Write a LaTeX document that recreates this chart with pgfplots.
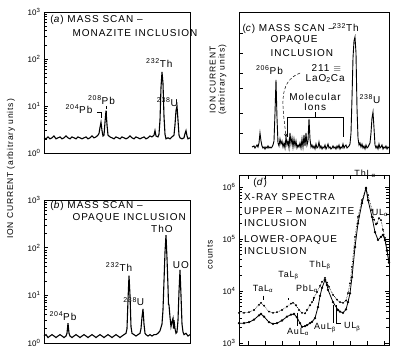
\documentclass[border=0pt]{standalone}
\usepackage{pgfplots}
\pgfplotsset{compat=1.18}
\usepackage{fontspec}
\setmainfont{Liberation Sans}[LetterSpace=10]
\newfontfamily\tickfont{Liberation Sans}
\pgfplotsset{
  panel/.style={scale only axis, clip=false, anchor=south west,
    axis line style={line width=0.8pt}, xtick=\empty, tick style={black, line width=0.5pt},
    ytick pos=left, tick label style={font=\tickfont\fontsize{8}{9}\selectfont}},
  logpanel/.style={ytick={1,10,100,1000},
    yticklabels={10\textsuperscript{0},10\textsuperscript{1},10\textsuperscript{2},10\textsuperscript{3}}}
}
\begin{document}
\begin{tikzpicture}[font=\fontsize{10}{11}\selectfont]
\path[use as bounding box] (0pt,0pt) rectangle (400pt,357pt);
% ---------------- (a)
\begin{axis}[ymode=log, panel, logpanel, at={(44pt,204pt)}, width=146pt, height=141pt,
  xmin=0, xmax=146, ymin=1, ymax=1000]
\addplot[line width=1.1pt, black] coordinates {
(0,2.1)(2,2.0)(4,2.2)(6,2.0)(8,2.1)(10,2.3)(12,2.0)(14,2.1)(16,2.2)(18,2.0)(20,2.1)(22,2.3)(24,2.1)(26,2.0)(28,2.2)(30,2.1)(32,2.0)(34,2.2)(36,2.1)(38,2.0)(40,2.1)(42,2.2)(44,2.0)(46,2.1)(48,2.3)(50,2.1)(52,2.2)(54,2.4)(55,2.6)(56,3.5)(57,4.5)(58,3.0)(59,2.3)(60,2.4)(61,4.5)(62,8.0)(63,4.0)(64,2.4)(66,2.2)(68,2.1)(70,2.0)(72,2.2)(74,2.1)(76,2.0)(78,2.2)(80,2.1)(82,2.0)(84,2.1)(86,2.3)(88,2.1)(90,2.0)(92,2.2)(94,2.1)(96,2.0)(98,2.1)(100,2.2)(102,2.0)(104,2.1)(106,2.3)(108,2.2)(110,2.4)(111,3.0)(112,2.3)(114,2.2)(115,2.5)(116,5)(117,25)(118,53)(119,30)(120,6)(121,2.5)(122,2.0)(124,2.1)(126,2.0)(128,2.2)(130,2.4)(131,4)(132,8)(133,10)(134,5)(135,2.4)(136,2.1)(138,2.0)(140,2.1)(141,2.6)(142,3.0)(143,2.3)(144,2.0)(146,2.1)};
\node[anchor=west] at (rel axis cs:0.02,0.943) {(\textit{a}) MASS SCAN –};
\node[anchor=west] at (rel axis cs:0.171,0.851) {MONAZITE INCLUSION};
\node at (rel axis cs:0.79,0.638) {\textsuperscript{232}Th};
\node at (rel axis cs:0.845,0.36) {\textsuperscript{238}U};
\node at (rel axis cs:0.394,0.376) {\textsuperscript{208}Pb};
\node at (rel axis cs:0.24,0.312) {\textsuperscript{204}Pb};
\draw[line width=0.5pt] (rel axis cs:0.363,0.29) -- (rel axis cs:0.39,0.29) -- (rel axis cs:0.39,0.245);
\draw[line width=0.5pt, densely dashed] (rel axis cs:0.425,0.33) -- (rel axis cs:0.425,0.28);
\end{axis}
% ---------------- (b)
\begin{axis}[ymode=log, panel, logpanel, at={(44pt,14pt)}, width=146pt, height=143pt,
  xmin=0, xmax=146, ymin=1, ymax=1000]
\addplot[line width=1.1pt, black] coordinates {
(0,1.4)(2,1.5)(4,1.3)(6,1.4)(8,1.5)(10,1.4)(12,1.3)(14,1.4)(16,1.5)(18,1.4)(20,1.3)(22,1.4)(23,1.6)(24,2.6)(25,1.6)(26,1.4)(28,1.3)(30,1.4)(32,1.5)(34,1.4)(36,1.3)(38,1.4)(40,1.5)(42,1.4)(44,1.3)(46,1.4)(48,1.5)(50,1.4)(52,1.3)(54,1.4)(56,1.5)(58,1.4)(60,1.3)(62,1.4)(64,1.5)(66,1.4)(68,1.3)(70,1.4)(72,1.5)(74,1.4)(76,1.3)(78,1.4)(80,1.5)(82,1.6)(83,2.0)(84,8)(85,26)(86,10)(87,2.2)(88,1.6)(90,1.5)(92,1.4)(94,1.5)(96,1.6)(97,2.0)(98,3.5)(99,5.2)(100,2.5)(101,1.6)(102,1.5)(104,1.4)(106,1.5)(108,1.4)(110,1.5)(112,1.5)(114,1.6)(116,1.8)(118,2.5)(119,5)(120,20)(121,80)(122,184)(123,60)(124,15)(124.5,6.5)(125,6.3)(126,3.5)(127,2.2)(128,2.8)(129,3.3)(129.5,2.0)(130,3.0)(131,2.0)(132,1.6)(133,1.7)(134,3)(135,12)(136,34)(137,10)(138,2.5)(139,1.7)(140,1.5)(142,1.6)(144,1.4)(146,1.5)};
\node[anchor=west] at (rel axis cs:0.02,0.96) {(\textit{b}) MASS SCAN –};
\node[anchor=west] at (rel axis cs:0.171,0.875) {OPAQUE INCLUSION};
\node at (rel axis cs:0.808,0.797) {ThO};
\node at (rel axis cs:0.938,0.545) {UO};
\node at (rel axis cs:0.514,0.531) {\textsuperscript{232}Th};
\node at (rel axis cs:0.615,0.29) {\textsuperscript{238}U};
\node at (rel axis cs:0.13,0.19) {\textsuperscript{204}Pb};
\end{axis}
\node[rotate=90, font=\fontsize{8.5}{9}\selectfont] at (11pt,188pt) {ION CURRENT (arbitrary units)};
% ---------------- (c)
\begin{axis}[panel, at={(239pt,204pt)}, width=150pt, height=141pt,
  xmin=0, xmax=150, ymin=0, ymax=141, ytick={20,40,65,80,100,120}, yticklabels={}]
\addplot[line width=0.9pt, black] coordinates {
(13,6)(15,7)(16,5)(18,8)(19,6)(20,10)(21,20)(22,12)(23,7)(24,5)(25,6)(26,4)(27,6)(28,5)(29,7)(30,5)(31,6)(32,5)(33,6)(34,8)(35,12)(36,40)(37,73)(38,35)(39,10)(40,7)(41,14)(42,9)(43,12)(44,6)(45,10)(46,5)(47,16)(48,8)(49,12)(50,5)(51,20)(52,9)(53,15)(54,6)(55,14)(56,7)(57,12)(58,5)(59,8)(60,6)(61,10)(62,5)(63,14)(64,6)(65,18)(66,7)(67,20)(68,8)(69,12)(70,34)(71,14)(72,6)(73,8)(74,5)(75,7)(76,4)(77,9)(78,5)(79,6)(80,11)(81,5)(82,7)(83,4)(84,6)(85,5)(86,8)(87,4)(88,6)(89,9)(90,5)(91,6)(92,4)(93,5)(94,7)(95,5)(96,6)(97,4)(98,7)(99,5)(100,8)(101,4)(102,6)(103,5)(104,9)(105,5)(106,7)(107,8)(108,5)(109,6)(110,7)(111,9)(112,20)(113,55)(114,95)(115,112)(116,116)(117,100)(118,45)(119,15)(120,8)(121,10)(122,6)(123,9)(124,5)(125,7)(126,4)(127,8)(128,5)(129,6)(130,8)(131,10)(132,20)(133,35)(134,41)(135,25)(136,8)(137,5)(138,7)(139,4)(140,9)(141,5)(142,6)(143,8)(144,4)(145,6)(146,5)(147,7)(148,4)(149,6)(150,5)};
\node[anchor=west] at (rel axis cs:0.0,0.88) {(\textit{c}) MASS SCAN –};
\node[anchor=west] at (rel axis cs:0.6,0.89) {\textsuperscript{232}Th};
\node[anchor=west] at (rel axis cs:0.187,0.80) {OPAQUE};
\node[anchor=west] at (rel axis cs:0.187,0.71) {INCLUSION};
\node[anchor=west] at (rel axis cs:0.09,0.589) {\textsuperscript{206}Pb};
\node[anchor=west] at (rel axis cs:0.46,0.60) {211 $\equiv$};
\node[anchor=west] at (rel axis cs:0.42,0.53) {LaO\textsubscript{2}Ca};
\node at (rel axis cs:0.507,0.397) {Molecular};
\node at (rel axis cs:0.507,0.326) {Ions};
\node[anchor=west] at (rel axis cs:0.78,0.383) {\textsuperscript{238}U};
\draw[line width=0.5pt] (rel axis cs:0.32,0.113) -- (rel axis cs:0.32,0.255) -- (rel axis cs:0.693,0.255) -- (rel axis cs:0.693,0.113);
\draw[line width=0.5pt] (rel axis cs:0.507,0.255) -- (rel axis cs:0.507,0.29);
\draw[line width=0.5pt, densely dashed, -stealth] (rel axis cs:0.407,0.567) to[out=200,in=95] (rel axis cs:0.313,0.113);
\end{axis}
\node[rotate=90, font=\fontsize{8.5}{9}\selectfont, align=center] at (218pt,277pt) {ION CURRENT\\(arbitrary units)};
% ---------------- (d)
\begin{axis}[ymode=log, panel, at={(239pt,12pt)}, width=150pt, height=170pt,
  xmin=0, xmax=150, ymin=912, ymax=1.7e6, ytick={1000,10000,100000,1000000},
  yticklabels={10\textsuperscript{3},10\textsuperscript{4},10\textsuperscript{5},10\textsuperscript{6}},
  ytick pos=both, yticklabel pos=left, xtick={9,26,43,60,77,94,111,128,145}, xticklabels={}, xtick pos=both]
\addplot[densely dotted, line width=0.6pt, black, mark=*, mark size=0.6pt, mark options={solid}] coordinates {
(0,3780)(5,3800)(10,3900)(15,4300)(20,5400)(22,5900)(25,5200)(30,4000)(34,3800)(38,3900)(43,4300)(48,5000)(52,5700)(54,5900)(57,5300)(60,4300)(63,3800)(66,3700)(68,4300)(71,5300)(73,6100)(75,7400)(78,9500)(81,12500)(83,15000)(86,17800)(88,14500)(90,12000)(94,8400)(98,6800)(101,6100)(104,5900)(107,6500)(109,9100)(111,14000)(113,29000)(116,110000)(119,265000)(123,560000)(127,960000)(129,700000)(133,360000)(135,235000)(137,190000)(138,200000)(140,250000)(142,230000)(144,150000)(146,105000)(148,60000)(150,35000)};
\addplot[line width=0.8pt, black, mark=*, mark size=0.7pt] coordinates {
(0,2400)(5,2400)(10,2500)(15,2800)(20,3400)(22,3600)(25,3200)(30,2500)(34,2330)(38,2400)(43,2700)(48,3200)(52,3500)(55,3600)(58,3100)(61,2400)(63,2030)(66,2100)(68,2200)(71,2400)(73,2540)(76,3000)(79,4900)(81,8000)(83,11400)(86,16300)(88,13000)(89,10500)(94,6100)(99,4300)(101,4000)(104,3800)(107,4400)(109,6100)(111,9000)(113,18500)(116,70000)(119,200000)(123,490000)(127,950000)(129,560000)(133,265000)(136,135000)(139,96000)(142,110000)(144,120000)(146,95000)(148,60000)(150,35000)};
\node[anchor=west] at (rel axis cs:0.073,0.953) {(\textit{d})};
\node[anchor=west] at (rel axis cs:0.01,0.87) {X-RAY SPECTRA};
\node[anchor=west] at (rel axis cs:0.01,0.785) {UPPER – MONAZITE};
\node[anchor=west] at (rel axis cs:0.01,0.718) {INCLUSION};
\node[anchor=west] at (rel axis cs:0.01,0.618) {LOWER-OPAQUE};
\node[anchor=west] at (rel axis cs:0.01,0.553) {INCLUSION};
\begin{scope}[every node/.style={font=\fontsize{9}{10}\selectfont}]
\node at (rel axis cs:0.84,1.01) {ThL\textsubscript{α}};
\node at (rel axis cs:0.94,0.776) {UL\textsubscript{α}};
\node at (rel axis cs:0.54,0.47) {ThL\textsubscript{β}};
\node at (rel axis cs:0.33,0.41) {TaL\textsubscript{β}};
\node at (rel axis cs:0.453,0.33) {PbL\textsubscript{α}};
\node at (rel axis cs:0.16,0.33) {TaL\textsubscript{α}};
\node at (rel axis cs:0.393,0.075) {AuL\textsubscript{α}};
\node at (rel axis cs:0.573,0.1) {AuL\textsubscript{β}};
\node at (rel axis cs:0.755,0.106) {UL\textsubscript{β}};
\end{scope}
\draw[line width=0.5pt] (rel axis cs:0.387,0.19) -- (rel axis cs:0.387,0.11);
\draw[line width=0.5pt] (rel axis cs:0.627,0.235) -- (rel axis cs:0.627,0.13);
\draw[line width=0.5pt] (rel axis cs:0.647,0.235) -- (rel axis cs:0.647,0.125) -- (rel axis cs:0.68,0.125);
\draw[line width=0.5pt] (rel axis cs:0.16,0.29) -- (rel axis cs:0.16,0.265);
\draw[line width=0.5pt] (rel axis cs:0.327,0.275) -- (rel axis cs:0.327,0.265);
\draw[line width=0.5pt] (rel axis cs:0.493,0.275) -- (rel axis cs:0.493,0.26);
\end{axis}
\node[rotate=90, font=\fontsize{8.5}{9}\selectfont] at (210pt,102pt) {counts};
\end{tikzpicture}
\end{document}
